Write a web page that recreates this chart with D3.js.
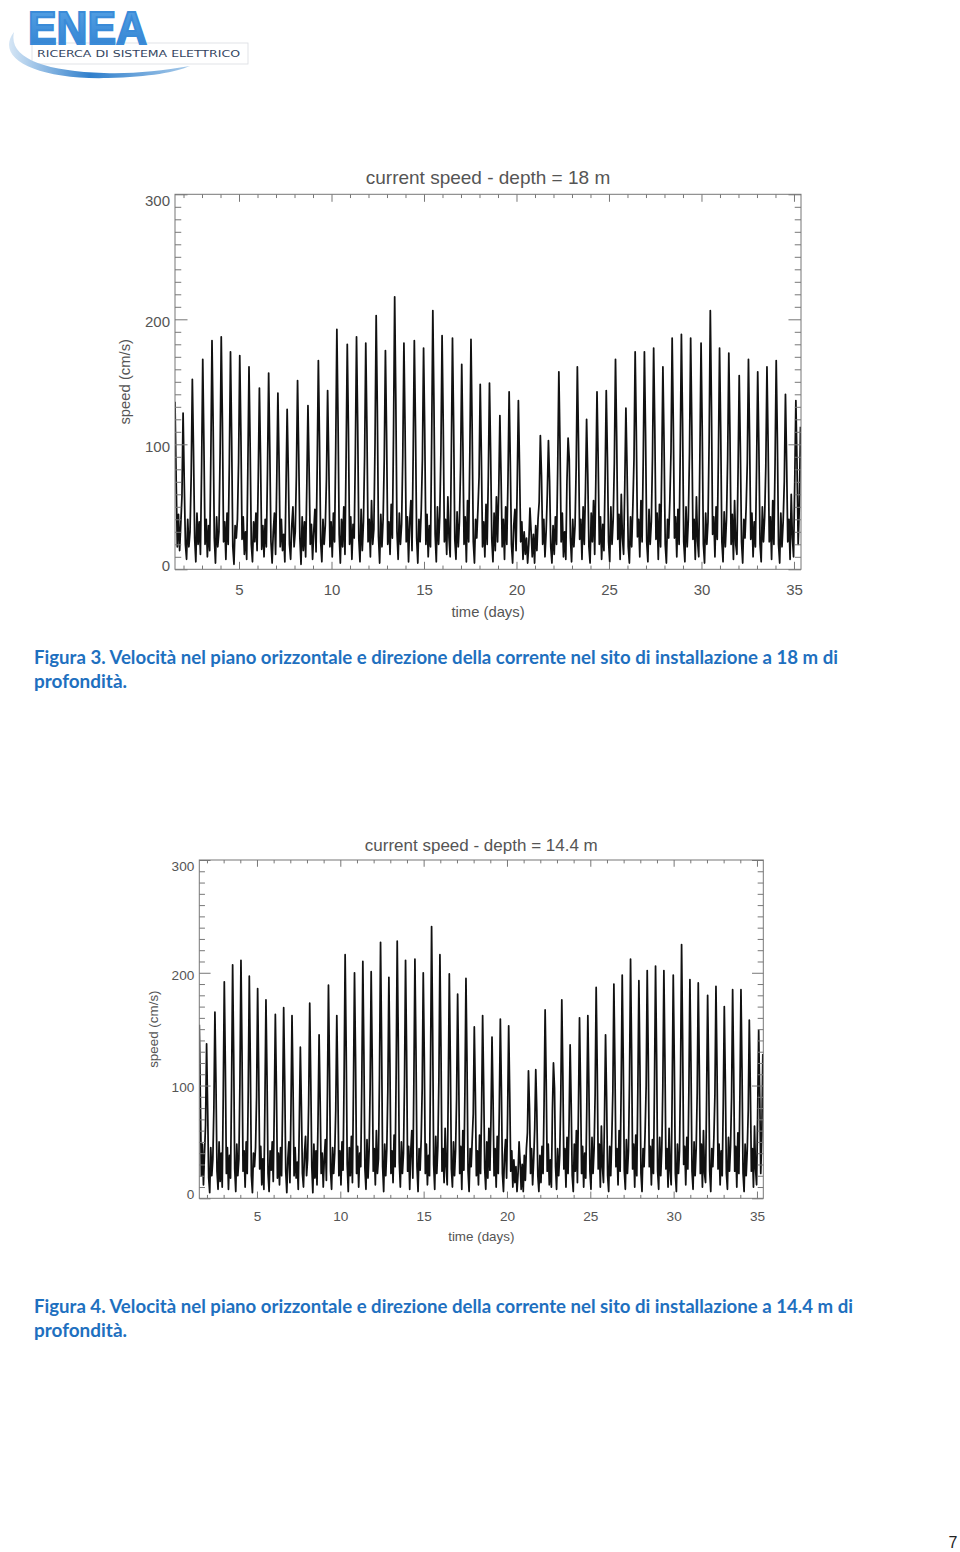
<!DOCTYPE html>
<html><head><meta charset="utf-8">
<script src="https://cdn.jsdelivr.net/npm/d3@7"></script>
<style>
body{margin:0;background:#fff;}
svg{display:block;}
</style></head><body>
<svg id="page" width="960" height="1552"></svg>
<script>
// ---------------- DATA ----------------
const t0 = 1.54;          // first sample (days)
const dt = 1 / 16;        // sampling step (days, 1.5 h)
const xDomain = [1.54, 35.38];
const yDomain = [0, 300];
const xTicks = [5, 10, 15, 20, 25, 30, 35];
const yTicks = [0, 100, 200, 300];
const titles = ["current speed - depth = 18 m", "current speed - depth = 14.4 m"];
const xTitle = "time (days)";
const yTitle = "speed (cm/s)";
const captions = [
  ["Figura 3. Velocità nel piano orizzontale e direzione della corrente nel sito di installazione a 18 m di", "profondità."],
  ["Figura 4. Velocità nel piano orizzontale e direzione della corrente nel sito di installazione a 14.4 m di", "profondità."]
];
const pageNumber = "7";

// speed (cm/s) at 18 m, one row per tidal cycle (row starts at the peak)
const speed18 = [
  [134,72,18,44,15,36,58],
  [125,70,20,8,40,18,30,75],
  [152,95,25,6,45,20,38,12,80],
  [168,100,20,40,10,35,15,90],
  [183,115,25,5,42,18,30,92],
  [186,118,22,38,8,45,20,85],
  [174,105,18,4,35,25,40,86],
  [171,108,24,42,12,30,8,80],
  [162,98,20,6,38,22,45,15,72],
  [145,88,16,35,10,40,18,78],
  [157,95,22,5,30,45,12,70],
  [141,85,18,40,15,28,6,64],
  [128,78,20,8,35,50,18,30,75],
  [151,92,25,4,42,15,38,10,66],
  [131,80,20,36,8,30,48,14,83],
  [167,102,22,6,40,20,35,72],
  [143,86,18,38,10,45,22,96],
  [192,120,28,5,40,18,50,12,90],
  [180,112,20,42,8,36,25,93],
  [186,116,24,6,48,15,38,90],
  [181,112,22,40,10,55,20,32,100],
  [203,128,26,5,44,18,40,88],
  [175,108,20,38,12,52,25,108],
  [218,135,30,8,45,20,36,90],
  [181,112,22,42,6,38,55,15,92],
  [183,114,25,5,40,22,48,88],
  [177,110,20,44,10,35,18,104],
  [207,130,28,6,50,20,42,94],
  [187,116,22,40,12,58,25,10,92],
  [185,115,24,8,46,18,38,82],
  [164,100,20,42,6,55,22,92],
  [184,114,22,5,40,25,48,74],
  [148,90,18,38,10,52,20,74],
  [149,92,24,6,45,15,58,22,62],
  [123,75,18,40,8,50,20,71],
  [142,86,20,5,35,48,15,68],
  [135,82,22,38,8,30,12,25,5,20],
  [49,30,10,28,5,35,15,40,54],
  [107,75,20,40,10,30,60],
  [103,70,18,5,35,12,42,20,80],
  [158,100,22,45,10,30,8,70],
  [105,88,25,6,40,18,35,82],
  [162,102,24,40,8,50,20,62],
  [120,76,18,5,45,22,55,12,72],
  [142,88,20,42,8,36,15,72],
  [143,90,22,6,50,20,40,85],
  [168,106,24,44,8,60,25,12,66],
  [129,80,18,5,42,18,50,88],
  [174,110,26,40,10,55,22,88],
  [174,108,22,6,48,20,38,90],
  [177,112,24,45,8,52,18,82],
  [162,100,20,5,40,25,55,94],
  [185,116,25,42,10,48,20,95],
  [188,118,22,6,50,18,40,93],
  [185,115,24,40,8,58,22,10,92],
  [181,112,20,5,45,20,38,104],
  [207,130,28,42,10,50,24,90],
  [177,110,22,6,46,18,40,88],
  [173,108,20,44,8,55,20,12,78],
  [155,96,22,5,40,25,50,85],
  [168,104,24,45,10,38,18,80],
  [158,98,20,6,50,22,42,82],
  [162,100,22,42,8,55,20,84],
  [167,104,20,5,45,18,38,70],
  [140,86,22,40,8,60,25,10,68],
  [135,84,20,50],
  [114]
];

// speed (cm/s) at 14.4 m, one row per tidal cycle (row starts at the peak)
const speed14 = [
  [154,90,20,48,12,40,65],
  [137,80,18,5,45,20,35,80],
  [165,102,24,8,50,15,40,10,92],
  [192,118,22,45,8,38,18,100],
  [207,128,26,6,48,20,35,102],
  [211,130,24,42,10,50,22,96],
  [197,120,20,5,40,28,45,90],
  [186,115,26,46,12,35,8,85],
  [176,108,22,6,42,25,50,15,80],
  [163,100,18,40,12,45,20,82],
  [169,104,24,5,35,50,14,78],
  [162,98,20,45,18,32,8,65],
  [134,82,22,10,40,55,20,35,84],
  [173,106,28,5,48,18,42,12,70],
  [145,88,22,40,10,35,52,16,92],
  [189,116,24,8,45,22,40,78],
  [162,98,20,42,12,50,25,105],
  [216,134,30,6,45,20,55,14,98],
  [200,124,22,46,10,40,28,102],
  [210,130,26,8,52,18,42,98],
  [201,124,24,44,12,60,22,35,110],
  [227,140,28,6,48,20,44,96],
  [196,120,22,42,14,56,28,112],
  [228,142,32,10,50,22,40,102],
  [211,130,24,46,8,42,60,18,104],
  [212,132,28,6,44,25,52,98],
  [200,124,22,48,12,38,20,118],
  [241,150,30,8,55,22,46,105],
  [216,134,24,44,14,62,28,12,96],
  [199,122,26,10,50,20,42,88],
  [181,112,22,46,8,60,25,95],
  [195,120,24,6,44,28,52,75],
  [152,94,20,42,12,56,22,78],
  [162,100,26,8,50,18,62,25,70],
  [143,88,20,44,10,55,22,78],
  [159,98,22,6,38,52,18,75],
  [153,94,24,42,10,34,14,28,6,22],
  [50,32,8,30,6,38,16,44,58],
  [113,80,22,44,12,34,62],
  [114,78,20,6,38,14,46,22,84],
  [167,106,24,48,12,34,10,78],
  [120,98,28,8,44,20,38,88],
  [176,110,26,44,10,54,22,68],
  [136,84,20,6,48,24,60,14,80],
  [160,98,22,46,10,40,18,80],
  [162,100,24,8,54,22,44,92],
  [187,116,26,48,10,64,28,14,72],
  [145,90,20,6,46,20,54,94],
  [190,118,28,44,12,60,24,98],
  [198,122,24,8,52,22,42,104],
  [212,132,26,48,10,56,20,96],
  [193,118,22,6,44,28,60,100],
  [202,126,28,46,12,52,22,102],
  [206,128,24,8,54,20,44,100],
  [202,124,26,44,10,62,24,12,98],
  [198,122,22,6,48,22,42,110],
  [225,140,30,46,12,54,26,96],
  [194,120,24,8,50,20,44,94],
  [191,118,22,48,10,60,22,14,88],
  [180,112,24,6,44,28,54,92],
  [188,116,26,48,12,42,20,84],
  [170,104,22,8,54,24,46,90],
  [185,114,24,46,10,58,22,92],
  [185,114,22,6,48,20,42,78],
  [158,98,24,44,10,64,26,12,74],
  [149,92,22,56],
  [128]
];

// ---------------- DRAWING ----------------
const svg = d3.select("#page");
const axisFont = "'Liberation Sans', Arial, Helvetica, sans-serif";
const grey = "#555";

// ---- logo ----
(function drawLogo() {
  const defs = svg.append("defs");
  const g1 = defs.append("linearGradient").attr("id", "swoosh").attr("x1", "0").attr("y1", "0").attr("x2", "1").attr("y2", "0");
  g1.append("stop").attr("offset", "0").attr("stop-color", "#d6e6f5");
  g1.append("stop").attr("offset", "0.45").attr("stop-color", "#2f7fcc");
  g1.append("stop").attr("offset", "1").attr("stop-color", "#a9cbea");
  const g2 = defs.append("linearGradient").attr("id", "eneaFill").attr("x1", "0").attr("y1", "0").attr("x2", "0").attr("y2", "1");
  g2.append("stop").attr("offset", "0").attr("stop-color", "#5aa5e6");
  g2.append("stop").attr("offset", "1").attr("stop-color", "#2f80d0");
  const lg = svg.append("g");
  lg.append("rect").attr("x", 32).attr("y", 43).attr("width", 216).attr("height", 21)
    .attr("fill", "#fff").attr("stroke", "#d9dde2").attr("stroke-width", 0.8);
  lg.append("text").attr("x", 28).attr("y", 43.5).attr("textLength", 119).attr("lengthAdjust", "spacingAndGlyphs")
    .attr("font-family", "'Liberation Sans', Arial, sans-serif").attr("font-weight", 700).attr("font-size", 47)
    .attr("fill", "url(#eneaFill)").attr("stroke", "#3a8bd8").attr("stroke-width", 2).attr("stroke-linejoin", "miter")
    .text("ENEA");
  lg.append("text").attr("x", 37).attr("y", 57).attr("textLength", 203).attr("lengthAdjust", "spacingAndGlyphs")
    .attr("font-family", "'DejaVu Sans', sans-serif").attr("font-size", 9.5).attr("fill", "#34465f")
    .text("RICERCA DI SISTEMA ELETTRICO");
  lg.append("path")
    .attr("d", "M14 32 C-6 58 36 80 108 78 C150 77 176 72 190 66 C160 71 132 74 104 73 C44 71 8 58 14 32 Z")
    .attr("fill", "url(#swoosh)");
})();

// ---- charts ----
const chartCfgs = [
  { id: 1, rows: speed18, title: titles[0], left: 175, right: 801, top: 194.3, bottom: 569.3,
    tickFont: 15, titleFont: 19, axTitleFont: 14.8, titleY: 184, xPad: 15, xTitleY: 617, yTitleX: 130 },
  { id: 2, rows: speed14, title: titles[1], left: 199.3, right: 763.3, top: 860, bottom: 1198.3,
    tickFont: 13.6, titleFont: 17, axTitleFont: 13.4, titleY: 851, xPad: 13, xTitleY: 1241, yTitleX: 158 }
];

const yLabelShift = { 0: -4, 100: 2, 200: 2, 300: 6 };

function drawChart(cfg) {
  const g = svg.append("g");
  const vals = cfg.rows.flat();
  const series = vals.map((v, i) => [t0 + i * dt, v]);
  const x = d3.scaleLinear().domain(xDomain).range([cfg.left, cfg.right]);
  const y = d3.scaleLinear().domain(yDomain).range([cfg.bottom, cfg.top]);
  const w = cfg.right - cfg.left, h = cfg.bottom - cfg.top;
  const xMaj = 0.02 * h, xMin = 0.01 * h, yMaj = 0.02 * w, yMin = 0.01 * w;

  const clipId = "clip" + cfg.id;
  g.append("clipPath").attr("id", clipId).append("rect")
    .attr("x", cfg.left).attr("y", cfg.top - 2).attr("width", w).attr("height", h + 2);
  g.append("path").datum(series)
    .attr("clip-path", `url(#${clipId})`)
    .attr("fill", "none").attr("stroke", "#111").attr("stroke-width", 1.75).attr("stroke-linejoin", "round")
    .attr("d", d3.line().x(d => x(d[0])).y(d => y(d[1])));

  const style = sel => {
    sel.select(".domain").remove();
    sel.selectAll("line").attr("stroke", "#777").attr("stroke-width", 1);
    sel.selectAll("text").attr("fill", grey).attr("font-family", axisFont).attr("font-size", cfg.tickFont);
  };
  const xMinorVals = d3.range(2, 36).filter(v => v % 5 !== 0);
  const yMinorVals = d3.range(0, 301, 10).filter(v => v % 100 !== 0);

  // bottom
  g.append("g").attr("transform", `translate(0,${cfg.bottom})`)
    .call(d3.axisBottom(x).tickValues(xMinorVals).tickSize(-xMin).tickFormat("")).call(style);
  g.append("g").attr("transform", `translate(0,${cfg.bottom})`)
    .call(d3.axisBottom(x).tickValues(xTicks).tickSize(-xMaj).tickPadding(cfg.xPad)).call(style);
  // top
  g.append("g").attr("transform", `translate(0,${cfg.top})`)
    .call(d3.axisTop(x).tickValues(xMinorVals).tickSize(-xMin).tickFormat("")).call(style);
  g.append("g").attr("transform", `translate(0,${cfg.top})`)
    .call(d3.axisTop(x).tickValues(xTicks).tickSize(-xMaj).tickFormat("")).call(style);
  // left
  g.append("g").attr("transform", `translate(${cfg.left},0)`)
    .call(d3.axisLeft(y).tickValues(yMinorVals).tickSize(-yMin).tickFormat("")).call(style);
  const la = g.append("g").attr("transform", `translate(${cfg.left},0)`)
    .call(d3.axisLeft(y).tickValues(yTicks).tickSize(-yMaj).tickPadding(5)).call(style);
  la.selectAll(".tick text").attr("transform", d => `translate(0,${yLabelShift[d] || 0})`);
  // right
  g.append("g").attr("transform", `translate(${cfg.right},0)`)
    .call(d3.axisRight(y).tickValues(yMinorVals).tickSize(-yMin).tickFormat("")).call(style);
  g.append("g").attr("transform", `translate(${cfg.right},0)`)
    .call(d3.axisRight(y).tickValues(yTicks).tickSize(-yMaj).tickFormat("")).call(style);

  // frame
  g.append("rect").attr("x", cfg.left).attr("y", cfg.top).attr("width", w).attr("height", h)
    .attr("fill", "none").attr("stroke", "#777").attr("stroke-width", 1);

  // titles
  const cx = (cfg.left + cfg.right) / 2;
  g.append("text").attr("x", cx).attr("y", cfg.titleY).attr("text-anchor", "middle")
    .attr("font-family", axisFont).attr("font-size", cfg.titleFont).attr("fill", grey).text(cfg.title);
  g.append("text").attr("x", cx).attr("y", cfg.xTitleY).attr("text-anchor", "middle")
    .attr("font-family", axisFont).attr("font-size", cfg.axTitleFont).attr("fill", grey).text(xTitle);
  g.append("text").attr("transform", `translate(${cfg.yTitleX},${(cfg.top + cfg.bottom) / 2}) rotate(-90)`)
    .attr("text-anchor", "middle")
    .attr("font-family", axisFont).attr("font-size", cfg.axTitleFont).attr("fill", grey).text(yTitle);
}
chartCfgs.forEach(drawChart);

// ---- captions ----
const capFont = "Lato, 'Open Sans', 'Liberation Sans', sans-serif";
const capColor = "#1e70bf";
const capLayout = [
  { y1: 664, y2: 688, w1: 804, w2: 93 },
  { y1: 1313, y2: 1337, w1: 819, w2: 93 }
];
captions.forEach((c, i) => {
  const L = capLayout[i];
  svg.append("text").attr("x", 34).attr("y", L.y1).attr("textLength", L.w1).attr("lengthAdjust", "spacingAndGlyphs")
    .attr("font-family", capFont).attr("font-weight", 700).attr("font-size", 18).attr("fill", capColor).text(c[0]);
  svg.append("text").attr("x", 34).attr("y", L.y2).attr("textLength", L.w2).attr("lengthAdjust", "spacingAndGlyphs")
    .attr("font-family", capFont).attr("font-weight", 700).attr("font-size", 18).attr("fill", capColor).text(c[1]);
});

// ---- page number ----
svg.append("text").attr("x", 953).attr("y", 1547.5).attr("text-anchor", "middle")
  .attr("font-family", "'Liberation Sans', Arial, sans-serif").attr("font-size", 16).attr("fill", "#222").text(pageNumber);
</script>
</body></html>
